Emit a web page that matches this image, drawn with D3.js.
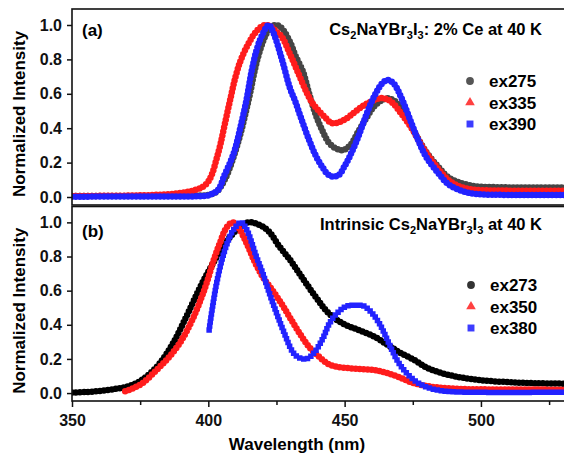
<!DOCTYPE html>
<html>
<head>
<meta charset="utf-8">
<script src="https://cdn.jsdelivr.net/npm/d3@7"></script>
<style>
  body { margin: 0; background: #fff; }
  svg { display: block; font-family: "Liberation Sans", Arial, sans-serif; font-weight: bold; }
</style>
</head>
<body>
<svg id="chart" width="564" height="456"></svg>
<script>
// values: [wavelength nm, normalized intensity]
// (a) Cs2NaYBr3I3: 2% Ce at 40 K
var ce275 = [[350,0.006],[370,0.006],[385,0.006],[395,0.008],[400,0.012],[403,0.03],[406,0.1],[409,0.22],[412,0.38],[415,0.58],[418,0.8],[421,0.94],[423,0.99],[425,1.0],[427,0.98],[430,0.9],[432,0.82],[434.7,0.73],[437,0.6],[439.6,0.47],[442,0.38],[444,0.32],[446,0.29],[448,0.275],[449.5,0.273],[452,0.3],[455,0.38],[458,0.46],[461,0.53],[464,0.565],[466,0.574],[469,0.55],[472,0.48],[475.8,0.37],[480,0.26],[484.3,0.176],[488,0.115],[493,0.08],[497,0.065],[500,0.06],[510,0.056],[520,0.055],[531,0.055]]
var ce335 = [[350,0.006],[370,0.008],[380,0.012],[385,0.016],[389.6,0.023],[395,0.04],[398,0.06],[400,0.09],[401.5,0.14],[403,0.22],[404.5,0.31],[406,0.42],[408,0.564],[410,0.7],[412,0.8],[415,0.9],[418,0.97],[420.7,1.0],[423,0.99],[425,0.96],[427,0.93],[430,0.83],[433,0.72],[436,0.61],[438,0.55],[440,0.51],[443,0.46],[445.2,0.43],[448,0.435],[451,0.46],[455,0.51],[459,0.55],[463.5,0.575],[467,0.555],[471,0.48],[475,0.39],[479,0.28],[484,0.17],[488,0.1],[492,0.062],[496,0.046],[500,0.04],[510,0.037],[531,0.036]]
var ce390 = [[350,0.002],[380,0.003],[395,0.004],[400,0.01],[403.5,0.04],[406,0.13],[408,0.2],[409.7,0.273],[412,0.42],[414,0.564],[416,0.74],[418,0.87],[420,0.95],[422.2,1.0],[424,0.95],[427,0.8],[430,0.63],[431.7,0.564],[434,0.46],[437,0.33],[439.6,0.234],[442,0.17],[444,0.13],[446,0.118],[448,0.13],[450,0.18],[452,0.24],[455,0.35],[458,0.48],[461,0.59],[464,0.665],[465.8,0.68],[468,0.66],[471,0.57],[474,0.45],[477,0.33],[480,0.23],[484.3,0.14],[488,0.075],[493,0.035],[497,0.02],[500,0.015],[510,0.012],[531,0.012]]

// (b) Intrinsic Cs2NaYBr3I3 at 40 K
var in273 = [[350,0.003],[355,0.006],[360,0.012],[365,0.022],[370,0.037],[375,0.07],[378.6,0.115],[382,0.17],[387,0.29],[392,0.45],[397,0.62],[401.7,0.76],[405,0.85],[410,0.95],[414.5,1.0],[418,0.99],[422,0.95],[426,0.86],[430,0.78],[433,0.71],[436,0.64],[440,0.55],[444,0.47],[449,0.41],[455,0.37],[461,0.33],[466,0.28],[470,0.24],[475.6,0.193],[480,0.15],[485,0.12],[490,0.1],[494,0.088],[500,0.075],[510,0.064],[520,0.058],[531,0.055]]
var in350 = [[369.5,0.01],[372,0.025],[376,0.06],[381,0.135],[385,0.2],[389,0.28],[392,0.36],[395,0.46],[397.5,0.56],[399.3,0.64],[402,0.78],[404.2,0.877],[406.7,0.97],[409,1.0],[411,0.97],[414,0.88],[417,0.77],[420,0.68],[423.6,0.6],[427,0.52],[430,0.44],[433.5,0.35],[437,0.27],[440.8,0.21],[444,0.17],[447,0.154],[452,0.145],[457,0.14],[461,0.135],[465,0.12],[469.7,0.095],[475,0.06],[482,0.037],[490,0.026],[500,0.022],[531,0.02]]
var in380 = [[400.3,0.37],[401.7,0.52],[403,0.64],[405,0.78],[407,0.88],[409,0.95],[412,1.0],[414,0.96],[417.6,0.8],[420,0.7],[422.5,0.58],[425,0.47],[427.4,0.37],[431,0.24],[433,0.21],[436,0.2],[439,0.24],[442,0.32],[444.5,0.41],[448,0.48],[451,0.51],[454.3,0.515],[457,0.51],[460,0.47],[463,0.4],[466,0.3],[469,0.2],[472,0.13],[476,0.07],[480,0.035],[485,0.015],[490,0.007],[531,0.005]]

var xMajor = [350, 400, 450, 500]
var xMinor = [375, 425, 475, 525]
var yTicks = [0, 0.2, 0.4, 0.6, 0.8, 1.0]

var svg = d3.select('#chart')

var x = d3.scaleLinear().domain([350, 531.2]).range([72, 566])
var yTop = d3.scaleLinear().domain([-0.0465, 1.093]).range([205, 9])
var yBot = d3.scaleLinear().domain([-0.0465, 1.093]).range([401, 206.5])

/**
 * draws one series as a chain of overlapping markers
 */
function drawSeries (g, y, data, color, cap) {
  var line = d3.line()
    .x(d => x(d[0]))
    .y(d => y(d[1]))
    .curve(d3.curveCatmullRom.alpha(0.5))
  g.append('path')
    .datum(data)
    .attr('d', line)
    .attr('fill', 'none')
    .attr('stroke', color)
    .attr('stroke-width', cap === 'square' ? 5.5 : 6.5)
    .attr('stroke-linecap', cap)
    .attr('stroke-dasharray', '0 4')
}

function drawTitle (parts, yPos) {
  var t = svg.append('text')
    .attr('x', 542).attr('y', yPos)
    .attr('text-anchor', 'end')
    .attr('font-size', 16.5)
  var shift = 0
  parts.forEach(p => {
    if (p.sub) {
      t.append('tspan').attr('font-size', 11).attr('dy', 4 - shift).text(p.sub)
      shift = 4
    } else {
      t.append('tspan').attr('dy', -shift).text(p.txt)
      shift = 0
    }
  })
}

function drawPanel (id, y, series, legend, legendX, legendY) {
  var clip = svg.append('clipPath').attr('id', 'clip-' + id)
  clip.append('rect')
    .attr('x', x(350)).attr('y', y.range()[1])
    .attr('width', x.range()[1] - x(350)).attr('height', y.range()[0] - y.range()[1])

  var g = svg.append('g').attr('clip-path', 'url(#clip-' + id + ')')
  series.forEach(s => drawSeries(g, y, s.data, s.color, s.cap))

  // frame
  svg.append('rect')
    .attr('x', x(350)).attr('y', y.range()[1])
    .attr('width', x.range()[1] - x(350)).attr('height', y.range()[0] - y.range()[1])
    .attr('fill', 'none').attr('stroke', '#111').attr('stroke-width', 1.6)

  // y axis
  var ay = svg.append('g')
    .attr('transform', 'translate(' + x(350) + ',0)')
    .call(d3.axisLeft(y).tickValues(yTicks).tickFormat(d3.format('.1f')).tickSize(5).tickPadding(5))
  ay.select('.domain').remove()
  ay.selectAll('line').attr('stroke', '#111').attr('stroke-width', 1.5)
  ay.selectAll('text').attr('font-size', 16).attr('fill', '#111')
    .attr('font-family', '"Liberation Sans", Arial, sans-serif').attr('font-weight', 'bold')

  // y label
  var mid = (y(0) + y(1)) / 2 + 3
  svg.append('text')
    .attr('transform', 'translate(25,' + mid + ') rotate(-90)')
    .attr('text-anchor', 'middle')
    .attr('font-size', 17)
    .text('Normalized Intensity')

  // legend
  legend.forEach((l, i) => {
    var ly = legendY + i * 21.5
    svg.append('path')
      .attr('d', d3.symbol().type(l.sym).size(l.sym === d3.symbolTriangle ? 40 : 48)())
      .attr('transform', 'translate(' + legendX + ',' + ly + ')')
      .attr('fill', l.color)
    svg.append('text')
      .attr('x', legendX + 19).attr('y', ly + 6)
      .attr('font-size', 17)
      .text(l.name)
  })
}

drawPanel('a', yTop,
  [{ data: ce275, color: '#454545', cap: 'round' },
    { data: ce335, color: '#ff1c1c', cap: 'round' },
    { data: ce390, color: '#2222ff', cap: 'round' }],
  [{ name: 'ex275', color: '#555', sym: d3.symbolCircle },
    { name: 'ex335', color: '#ff4040', sym: d3.symbolTriangle },
    { name: 'ex390', color: '#3c3cff', sym: d3.symbolSquare }],
  470, 81)

drawPanel('b', yBot,
  [{ data: in273, color: '#000', cap: 'round' },
    { data: in350, color: '#ff1c1c', cap: 'round' },
    { data: in380, color: '#2222ff', cap: 'square' }],
  [{ name: 'ex273', color: '#333', sym: d3.symbolCircle },
    { name: 'ex350', color: '#ff4040', sym: d3.symbolTriangle },
    { name: 'ex380', color: '#3c3cff', sym: d3.symbolSquare }],
  471, 285)

// x axis (bottom panel only)
var ax = svg.append('g')
  .attr('transform', 'translate(0,' + yBot.range()[0] + ')')
  .call(d3.axisBottom(x).tickValues(xMajor).tickFormat(d3.format('d')).tickSize(6).tickPadding(8))
ax.select('.domain').remove()
ax.selectAll('line').attr('stroke', '#111').attr('stroke-width', 1.5)
ax.selectAll('text').attr('font-size', 16).attr('fill', '#111')
  .attr('font-family', '"Liberation Sans", Arial, sans-serif').attr('font-weight', 'bold')

var axm = svg.append('g')
  .attr('transform', 'translate(0,' + yBot.range()[0] + ')')
  .call(d3.axisBottom(x).tickValues(xMinor).tickFormat('').tickSize(4))
axm.select('.domain').remove()
axm.selectAll('line').attr('stroke', '#111').attr('stroke-width', 1.5)

svg.append('text')
  .attr('x', 297).attr('y', 450)
  .attr('text-anchor', 'middle')
  .attr('font-size', 17)
  .text('Wavelength (nm)')

// panel tags and titles
svg.append('text').attr('x', 82).attr('y', 36).attr('font-size', 17).text('(a)')
svg.append('text').attr('x', 82).attr('y', 237).attr('font-size', 17).text('(b)')

drawTitle([{ txt: 'Cs' }, { sub: '2' }, { txt: 'NaYBr' }, { sub: '3' }, { txt: 'I' }, { sub: '3' }, { txt: ': 2% Ce at 40 K' }], 35)
drawTitle([{ txt: 'Intrinsic Cs' }, { sub: '2' }, { txt: 'NaYBr' }, { sub: '3' }, { txt: 'I' }, { sub: '3' }, { txt: ' at 40 K' }], 230)
</script>
</body>
</html>
